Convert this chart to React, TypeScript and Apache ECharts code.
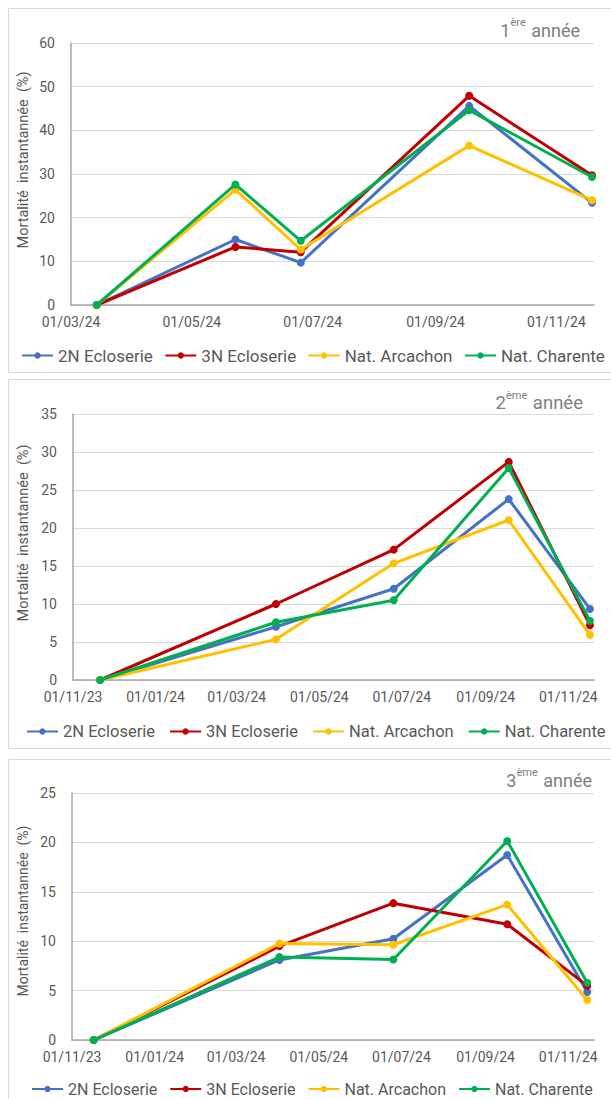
import React, { useEffect, useRef } from 'react';
import * as echarts from 'echarts';

const seriesNames = ['2N Ecloserie', '3N Ecloserie', 'Nat. Arcachon', 'Nat. Charente'];
const seriesColors = ['#4472C4', '#C00000', '#FFC000', '#00B050'];
const yAxisName = 'Mortalité  instantannée  (%)';

// Panel 1 — 1ère année
const p1Dates = ['2024-03-14', '2024-05-23', '2024-06-25', '2024-09-18', '2024-11-19'];
const p1Blue = [0, 15.0, 9.7, 45.6, 23.4];
const p1Red = [0, 13.3, 12.1, 47.9, 29.7];
const p1Yellow = [0, 26.4, 12.7, 36.5, 24.0];
const p1Green = [0, 27.6, 14.7, 44.6, 29.3];
const p1Ticks = ['2024-03-01', '2024-05-01', '2024-07-01', '2024-09-01', '2024-11-01'];
const p1Range = ['2024-03-01', '2024-11-20'];
const p1YMax = 60;
const p1YStep = 10;

// Panel 2 — 2ème année
const p2Dates = ['2023-11-21', '2024-03-30', '2024-06-25', '2024-09-18', '2024-11-17'];
const p2Blue = [0, 7.0, 12.0, 23.8, 9.35];
const p2Red = [0, 10.0, 17.15, 28.7, 7.2];
const p2Yellow = [0, 5.35, 15.35, 21.05, 5.95];
const p2Green = [0, 7.6, 10.5, 27.9, 7.8];
const p2Ticks = ['2023-11-01', '2024-01-01', '2024-03-01', '2024-05-01', '2024-07-01', '2024-09-01', '2024-11-01'];
const p2Range = ['2023-11-01', '2024-11-20'];
const p2YMax = 35;
const p2YStep = 5;

// Panel 3 — 3ème année
const p3Dates = ['2023-11-17', '2024-04-02', '2024-06-25', '2024-09-17', '2024-11-15'];
const p3Blue = [0, 8.1, 10.24, 18.73, 4.85];
const p3Red = [0, 9.5, 13.85, 11.72, 5.5];
const p3Yellow = [0, 9.77, 9.64, 13.7, 4.04];
const p3Green = [0, 8.4, 8.15, 20.15, 5.8];
const p3Ticks = ['2023-11-01', '2024-01-01', '2024-03-01', '2024-05-01', '2024-07-01', '2024-09-01', '2024-11-01'];
const p3Range = ['2023-11-01', '2024-11-20'];
const p3YMax = 25;
const p3YStep = 5;

const titleNums = ['1', '2', '3'];
const titleSups = ['ère', 'ème', 'ème'];

const ts = (s: string) => {
  const [y, m, d] = s.split('-').map(Number);
  return new Date(y, m - 1, d).getTime();
};
const pad = (n: number) => (n < 10 ? '0' + n : '' + n);
const fmt = (v: number) => {
  const d = new Date(v);
  return pad(d.getDate()) + '/' + pad(d.getMonth() + 1) + '/' + pad(d.getFullYear() % 100);
};

const FONT = 'Roboto, "Noto Sans", sans-serif';
const TXT = '#595959';

const panels = [
  {
    dates: p1Dates, values: [p1Blue, p1Red, p1Yellow, p1Green], ticks: p1Ticks, range: p1Range,
    yMax: p1YMax, yStep: p1YStep,
    grid: { left: 71, top: 43, width: 523, height: 262 },
    box: { y: 8, h: 365 },
    nameAt: [23, 160], nameSize: 14.5,
    titleAt: [580, 28], titleSize: 18,
    legendAt: [21, 347], legendGap: 11.5, legendSize: 17,
  },
  {
    dates: p2Dates, values: [p2Blue, p2Red, p2Yellow, p2Green], ticks: p2Ticks, range: p2Range,
    yMax: p2YMax, yStep: p2YStep,
    grid: { left: 73, top: 414, width: 521, height: 266 },
    box: { y: 379, h: 370 },
    nameAt: [23, 533], nameSize: 14.5,
    titleAt: [583, 401], titleSize: 18.5,
    legendAt: [26, 723], legendGap: 14, legendSize: 16.5,
  },
  {
    dates: p3Dates, values: [p3Blue, p3Red, p3Yellow, p3Green], ticks: p3Ticks, range: p3Range,
    yMax: p3YMax, yStep: p3YStep,
    grid: { left: 72, top: 793, width: 522, height: 247 },
    box: { y: 759, h: 400 },
    nameAt: [23, 911], nameSize: 14,
    titleAt: [592, 778], titleSize: 18,
    legendAt: [31, 1081], legendGap: 12, legendSize: 16,
  },
];

export default function App() {
  const ref = useRef<HTMLDivElement>(null);
  useEffect(() => {
    if (!ref.current) return;
    const chart = echarts.init(ref.current, undefined, { renderer: 'svg' });
    const grids: any[] = [];
    const xAxes: any[] = [];
    const yAxes: any[] = [];
    const series: any[] = [];
    const legends: any[] = [];
    const graphics: any[] = [];

    panels.forEach((p, i) => {
      grids.push({ ...p.grid, containLabel: false });
      xAxes.push({
        type: 'value',
        gridIndex: i,
        min: ts(p.range[0]),
        max: ts(p.range[1]),
        axisLine: { show: true, lineStyle: { color: '#a6a6a6', width: 1.5 } },
        axisTick: { show: false },
        splitLine: { show: false },
        axisLabel: {
          customValues: p.ticks.map(ts),
          formatter: (v: number) => fmt(v),
          color: TXT,
          fontFamily: FONT,
          fontSize: 14,
          margin: 10,
          hideOverlap: false,
        },
      });
      yAxes.push({
        type: 'value',
        gridIndex: i,
        min: 0,
        max: p.yMax,
        interval: p.yStep,
        axisLine: { show: true, lineStyle: { color: '#a6a6a6', width: 1.5 } },
        axisTick: { show: false },
        splitLine: { show: true, lineStyle: { color: '#d9d9d9', width: 1 } },
        axisLabel: { color: TXT, fontFamily: FONT, fontSize: 14, margin: 16 },
      });
      seriesNames.forEach((name, k) => {
        series.push({
          type: 'line',
          name,
          xAxisIndex: i,
          yAxisIndex: i,
          data: p.dates.map((d, j) => [ts(d), p.values[k][j]]),
          symbol: 'circle',
          symbolSize: 8,
          showSymbol: true,
          lineStyle: { color: seriesColors[k], width: 3 },
          itemStyle: { color: seriesColors[k] },
          emphasis: { disabled: true },
          z: 2 + k,
        });
      });
      legends.push({
        left: p.legendAt[0],
        top: p.legendAt[1],
        padding: 0,
        data: seriesNames,
        selectedMode: false,
        itemWidth: 31,
        itemHeight: 8,
        itemGap: p.legendGap,
        textStyle: { color: TXT, fontFamily: FONT, fontSize: p.legendSize },
      });
      graphics.push({
        type: 'rect',
        shape: { x: 8.5, y: p.box.y + 0.5, width: 700, height: p.box.h - 1 },
        style: { fill: 'none', stroke: '#d9d9d9', lineWidth: 1 },
        silent: true,
        z: -1,
      });
      graphics.push({
        type: 'text',
        x: p.nameAt[0],
        y: p.nameAt[1],
        rotation: Math.PI / 2,
        style: {
          text: yAxisName,
          fill: TXT,
          font: `${p.nameSize}px ${FONT}`,
          align: 'center',
          verticalAlign: 'middle',
        },
        silent: true,
      });
      graphics.push({
        type: 'text',
        x: p.titleAt[0],
        y: p.titleAt[1],
        style: {
          text: `{a|${titleNums[i]}}{s|${titleSups[i]}}{a| année}`,
          align: 'right',
          verticalAlign: 'middle',
          rich: {
            a: { fontSize: p.titleSize, fontFamily: FONT, fill: '#7f7f7f', lineHeight: 22, verticalAlign: 'bottom' },
            s: { fontSize: 11, fontFamily: FONT, fill: '#7f7f7f', lineHeight: 22, verticalAlign: 'top', padding: [0, 1, 0, 0] },
          },
        },
        silent: true,
      });
    });

    chart.setOption({
      animation: false,
      backgroundColor: '#ffffff',
      grid: grids,
      xAxis: xAxes,
      yAxis: yAxes,
      series,
      legend: legends,
      graphic: graphics,
    });
    return () => chart.dispose();
  }, []);
  return (
    <div
      ref={ref}
      style={{ position: 'fixed', left: 0, top: 0, width: 611, height: 1099, background: '#fff' }}
    />
  );
}
